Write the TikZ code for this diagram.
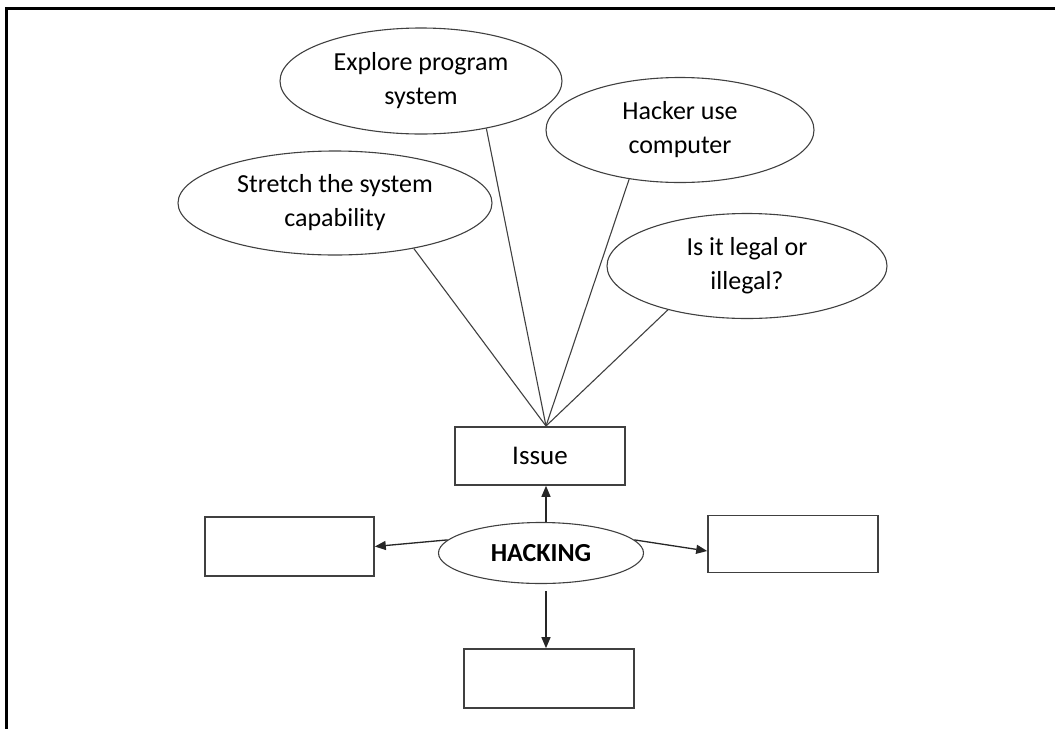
\documentclass[tikz,border=0pt]{standalone}
\usepackage{fontspec}
\setmainfont{Carlito}
\usetikzlibrary{shapes.geometric,arrows.meta,calc}
\begin{document}
\begin{tikzpicture}[x=1pt,y=-1pt,
  bubble/.style={draw=black!75,line width=1.1pt,ellipse,inner sep=0pt,align=center,
    font=\fontsize{26}{34}\selectfont,text=black},
  blank/.style={draw=black!75,line width=1.6pt,rectangle,inner sep=0pt},
  link/.style={draw=black!75,line width=1.1pt},
  arr/.style={draw=black!85,line width=1.3pt,-{Triangle[length=11pt,width=9pt]}},
  frame/.style={line width=3pt,black}]
\useasboundingbox (0,0) rectangle (1055,729);
\draw[frame] (1055,8) -- (6,8) -- (6,729);

\node[bubble,minimum width=282pt,minimum height=106pt] (explore) at (421,81) {Explore program\\system};
\node[bubble,minimum width=314pt,minimum height=104pt] (stretch) at (335,203) {Stretch the system\\capability};
\node[bubble,minimum width=268pt,minimum height=105pt] (hacker) at (680,130) {Hacker use\\computer};
\node[bubble,minimum width=280pt,minimum height=105pt] (legal) at (747,266) {Is it legal or\\illegal?};

\node[blank,minimum width=170pt,minimum height=58pt,font=\fontsize{27}{30}\selectfont,text=black] (iss) at (540,456) {Issue};
\coordinate (hub) at (546,426);

\node[bubble,minimum width=205pt,minimum height=61pt,font=\fontsize{26}{30}\selectfont\bfseries] (hack) at (541,553) {HACKING};

\node[blank,minimum width=169pt,minimum height=59pt] (lbox) at (289.5,546.5) {};
\node[blank,minimum width=170pt,minimum height=57pt] (rbox) at (793,544) {};
\node[blank,minimum width=170pt,minimum height=59pt] (bbox) at (549,678.5) {};
\coordinate (rin) at ($(rbox.west)+(0,7)$);

\draw[link] (stretch.-30) -- (hub);
\draw[link] (explore.-36) -- (hub);
\draw[link] (hacker.-136) -- (hub);
\draw[link] (legal.-151) -- (hub);

\draw[arr] (hack.north -| hub) -- (iss.south -| hub);
\draw[arr,shorten <=7pt] (hack.south -| hub) -- (bbox.north -| hub);
\draw[arr] (hack.172) -- (lbox.east);
\draw[arr] (hack.8) -- (rin);
\end{tikzpicture}
\end{document}
